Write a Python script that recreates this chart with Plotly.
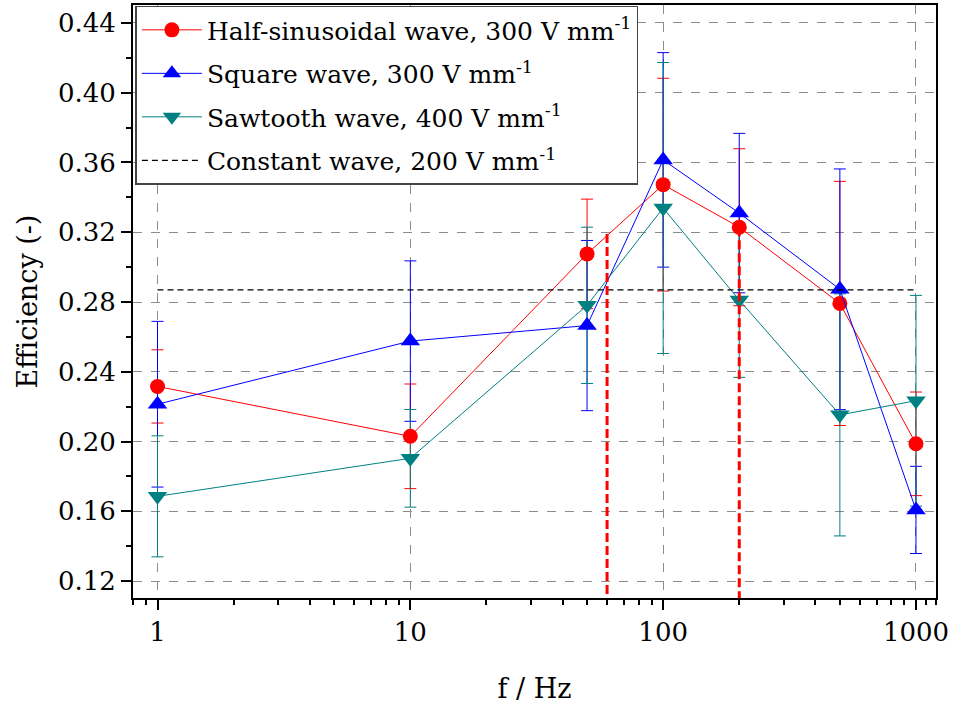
import plotly.graph_objects as go

# Frequencies (Hz)
freq = [1, 10, 50, 100, 200, 500, 1000]

# Efficiency and standard deviations for each waveform
half_sin = [0.2316, 0.2030, 0.3076, 0.3473, 0.3229, 0.2792, 0.1987]
half_sin_err = [0.0210, 0.0300, 0.0314, 0.0610, 0.0450, 0.0700, 0.0297]

square = [0.2214, 0.2576, 0.2665, 0.3615, 0.3310, 0.2873, 0.1608]
square_err = [0.0475, 0.0460, 0.0488, 0.0615, 0.0457, 0.0690, 0.0250]

sawtooth = [0.1686, 0.1904, 0.2781, 0.3339, 0.2811, 0.2153, 0.2234]
sawtooth_err = [0.0347, 0.0280, 0.0448, 0.0834, 0.0443, 0.0694, 0.0604]

constant_level = 0.287

# Frequency band markers (dashed red verticals)
band_f = [60, 200]
band_top = [0.319, 0.3229]
axis_floor = 0.1103

RED = "#FF0000"
BLUE = "#0000FF"
TEAL = "#008080"
FONT = "DejaVu Serif"

series = [
    ("Half-sinusoidal wave, 300 V mm<sup>-1</sup>", half_sin, half_sin_err, RED, "circle", 15),
    ("Square wave, 300 V mm<sup>-1</sup>", square, square_err, BLUE, "triangle-up", 17),
    ("Sawtooth wave, 400 V mm<sup>-1</sup>", sawtooth, sawtooth_err, TEAL, "triangle-down", 17),
]

fig = go.Figure()

# Error bars first so that all markers sit above them
for name, vals, errs, col, sym, size in series:
    fig.add_trace(go.Scatter(
        x=freq, y=vals, mode="markers",
        marker=dict(size=1, opacity=0, color=col),
        error_y=dict(type="data", array=errs, visible=True,
                     color=col, thickness=1, width=6),
        showlegend=False, hoverinfo="skip",
    ))

for i, (name, vals, errs, col, sym, size) in enumerate(series):
    fig.add_trace(go.Scatter(
        x=freq, y=vals, mode="lines+markers", name=name,
        legendgroup=f"g{i}",
        line=dict(color=col, width=1),
        marker=dict(symbol=sym, size=size, color=col, line=dict(width=0)),
    ))

fig.add_trace(go.Scatter(
    x=freq, y=[constant_level] * len(freq), mode="lines",
    name="Constant wave, 200 V mm<sup>-1</sup>", legendgroup="g3",
    line=dict(color="black", width=1.2, dash="6px,4px"),
))

for xf, yt in zip(band_f, band_top):
    fig.add_trace(go.Scatter(
        x=[xf, xf], y=[yt, axis_floor], mode="lines",
        line=dict(color=RED, width=3, dash="9px,4px"),
        showlegend=False, hoverinfo="skip",
    ))

minor_x = [0.8, 0.9] + [m * d for d in (1, 10, 100) for m in range(2, 10)] + [1100, 1200]

fig.update_layout(
    width=955, height=708,
    margin=dict(l=133, r=19, t=3, b=110),
    paper_bgcolor="white", plot_bgcolor="white",
    font=dict(family=FONT, size=26, color="black"),
    showlegend=True,
    legend=dict(
        x=0.003, y=0.999, xanchor="left", yanchor="top",
        bgcolor="white", bordercolor="#444444", borderwidth=1.5,
        font=dict(family=FONT, size=25, color="black"),
        itemwidth=60, tracegroupgap=8,
    ),
)

fig.update_xaxes(
    type="log", range=[-0.09691, 3.07918],
    tickmode="array", tickvals=[1, 10, 100, 1000],
    ticktext=["1", "10", "100", "1000"],
    ticks="outside", ticklen=10, tickwidth=1.5, tickcolor="black",
    minor=dict(tickmode="array", tickvals=minor_x, ticks="outside",
               ticklen=5, tickwidth=1.5, tickcolor="black", showgrid=False),
    showline=True, linecolor="black", linewidth=2, mirror=True,
    showgrid=True, gridcolor="#8c8c8c", griddash="dash", gridwidth=1,
    zeroline=False,
    title=dict(text="f / Hz", font=dict(family=FONT, size=27), standoff=33),
    tickfont=dict(family=FONT, size=26),
)

fig.update_yaxes(
    range=[0.1103, 0.4503],
    tickmode="linear", tick0=0.12, dtick=0.04, tickformat=".2f",
    ticks="outside", ticklen=10, tickwidth=1.5, tickcolor="black",
    minor=dict(tick0=0.12, dtick=0.02, ticks="outside",
               ticklen=5, tickwidth=1.5, tickcolor="black", showgrid=False),
    showline=True, linecolor="black", linewidth=2, mirror=True,
    showgrid=True, gridcolor="#8c8c8c", griddash="dash", gridwidth=1,
    zeroline=False,
    title=dict(text="Efficiency (-)", font=dict(family=FONT, size=27), standoff=12),
    tickfont=dict(family=FONT, size=26),
)

fig.write_html("out.html")
